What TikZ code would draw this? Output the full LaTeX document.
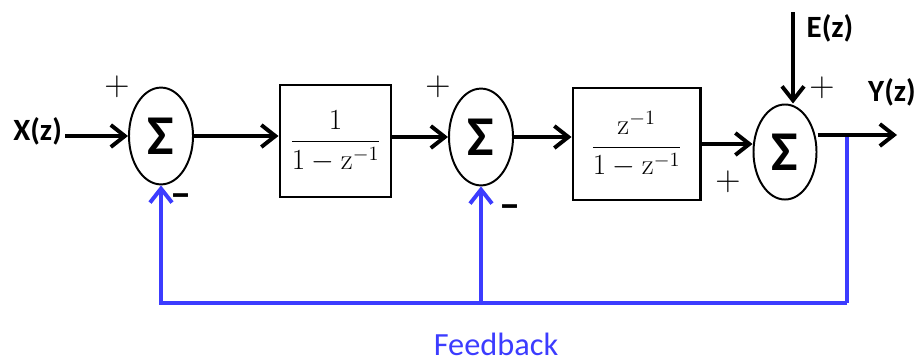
\documentclass[tikz,border=0pt]{standalone}
\usepackage[no-math]{fontspec}
\setmainfont{Carlito}
\usetikzlibrary{positioning, arrows.meta, shapes.geometric}
\definecolor{fbblue}{RGB}{60,60,255}

\begin{document}
\begin{tikzpicture}[
    x=0.025cm, y=-0.025cm,
    sum/.style={draw, ellipse, line width=1.4pt, inner sep=0pt,
      minimum width=1.6cm, minimum height=2.42cm,
      font=\fontsize{40}{40}\selectfont\bfseries},
    blk/.style={draw, line width=2.1pt, inner sep=0pt, minimum height=2.8cm,
      font=\fontsize{22}{26}\selectfont},
    sig/.style={font=\fontsize{22}{26}\selectfont\bfseries, inner sep=2pt},
    pm/.style={font=\fontsize{26}{26}\selectfont, inner sep=0pt},
    mn/.style={font=\fontsize{30}{30}\selectfont\bfseries, inner sep=0pt},
    arr/.style={-{Straight Barb[length=3.5mm, width=5.5mm]}, line width=2.8pt},
    fbarr/.style={arr, fbblue}
  ]
  \useasboundingbox (0,0) rectangle (919,362);

  \node[sum] (s1) at (161,136) {Σ};
  \node[blk, minimum width=2.775cm] (g1) at (335.5,141)
    {$\displaystyle\frac{1}{1-\mathrm{z}^{-1}}$};
  \node[sum] (s2) at (481,137) {Σ};
  \node[blk, minimum width=3.175cm] (g2) at (636.5,144)
    {$\displaystyle\frac{\mathrm{z}^{-1}}{1-\mathrm{z}^{-1}}$};
  \node[sum, minimum width=1.575cm, minimum height=2.375cm] (s3) at (785,152) {Σ};

  \node[sig, anchor=east] (x) at (65,131) {X(z)};
  \node[sig] (e) at (830,28) {E(z)};
  \node[sig] (y) at (892,92) {Y(z)};

  % signs at the summing junctions
  \node[pm] (p1) at (117,87) {$+$};
  \node[pm] (p2) at (438,87) {$+$};
  \node[pm] (p3) at (822,88) {$+$};
  \node[pm] (p4) at (728,182) {$+$};
  \node[mn] (m1) at (181,201) {–};
  \node[mn] (m2) at (510,212) {–};

  \coordinate (etop) at (793,12);
  \coordinate (yend) at (897,135);
  \coordinate (tap) at (847,135);
  \coordinate (fbr) at (847,303);

  % feedback path
  \draw[fbblue, line width=2.8pt] (tap) -- (fbr);
  \draw[fbarr] (fbr) -| (s1.south);
  \draw[fbarr] (s2.south |- fbr) -- (s2.south);
  \node[fbblue, font=\fontsize{23}{26}\selectfont] (fb) at (496,344) {Feedback};

  % forward path
  \draw[arr] (x.east |- s1.west) -- (s1.west);
  \draw[arr] (s1.east) -- (s1.east -| g1.west);
  \draw[arr] (g1.east |- s2.west) -- (s2.west);
  \draw[arr] (s2.east) -- (s2.east -| g2.west);
  \draw[arr] (g2.east) -- (g2.east -| s3.west);
  \draw[arr] (etop) -- (etop |- s3.north);
  \draw[arr] (s3.east |- yend) -- (yend);
\end{tikzpicture}
\end{document}
